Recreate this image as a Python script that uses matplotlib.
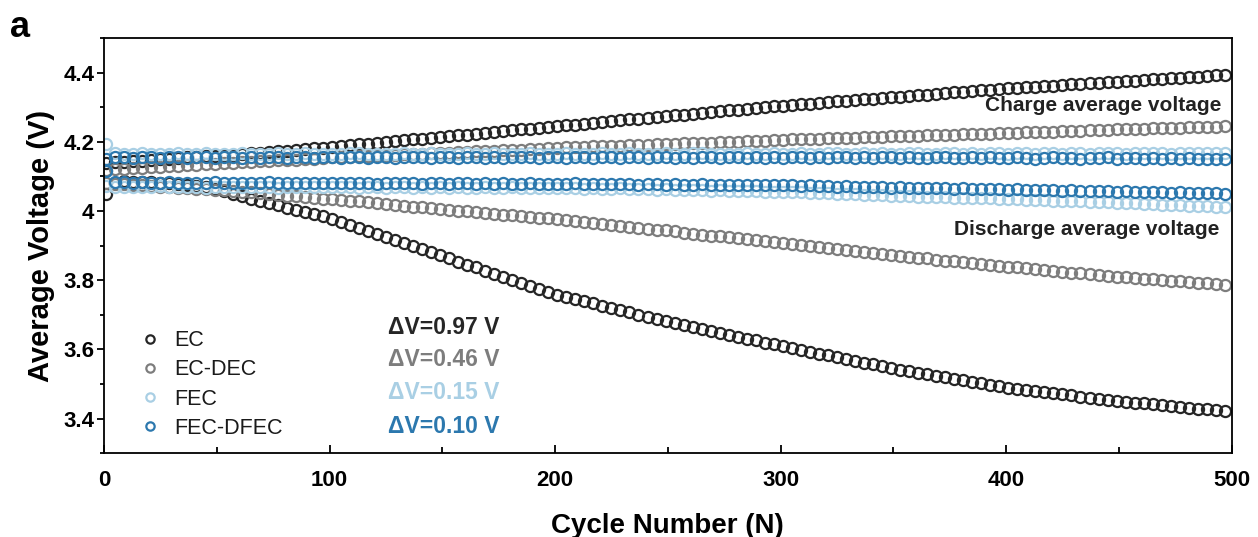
import numpy as np
import matplotlib
matplotlib.use("Agg")
import matplotlib.pyplot as plt
from matplotlib.ticker import MultipleLocator, FuncFormatter

plt.rcParams['font.family'] = ['Liberation Sans', 'DejaVu Sans']

# cycle index of every plotted point (every 4th cycle)
cycles = np.arange(1, 501, 4)

# average voltages in mV
ec_charge = [
    4140, 4142, 4143, 4145, 4146, 4148, 4150, 4151, 4153, 4155, 4156, 4158, 4160,
    4161, 4163, 4165, 4167, 4169, 4171, 4173, 4175, 4177, 4179, 4181, 4183,
    4185, 4188, 4190, 4193, 4195, 4197, 4200, 4202, 4205, 4207, 4209, 4212, 4214,
    4217, 4219, 4221, 4224, 4226, 4229, 4231, 4233, 4236, 4238, 4241, 4243,
    4245, 4248, 4250, 4253, 4255, 4257, 4260, 4262, 4265, 4267, 4269, 4272, 4274,
    4277, 4279, 4281, 4284, 4286, 4289, 4291, 4293, 4296, 4298, 4301, 4303,
    4305, 4307, 4309, 4311, 4313, 4315, 4317, 4319, 4321, 4323, 4325, 4327, 4329,
    4331, 4333, 4335, 4337, 4339, 4341, 4343, 4345, 4347, 4349, 4351, 4353,
    4355, 4357, 4358, 4360, 4361, 4363, 4365, 4366, 4368, 4369, 4371, 4373, 4374,
    4376, 4377, 4379, 4381, 4382, 4384, 4385, 4387, 4389, 4390, 4392, 4393,
]
ec_discharge = [
    4050, 4082, 4086, 4085, 4084, 4083, 4081, 4080, 4078, 4076, 4073, 4069, 4064,
    4057, 4050, 4043, 4036, 4029, 4023, 4017, 4010, 4004, 3998, 3992, 3985,
    3978, 3969, 3960, 3951, 3943, 3934, 3925, 3916, 3907, 3898, 3890, 3881, 3872,
    3863, 3854, 3845, 3837, 3828, 3819, 3810, 3801, 3793, 3784, 3775, 3766,
    3758, 3752, 3745, 3739, 3733, 3726, 3720, 3713, 3707, 3701, 3694, 3688, 3682,
    3676, 3670, 3665, 3659, 3654, 3648, 3643, 3637, 3631, 3626, 3620, 3615,
    3609, 3604, 3599, 3594, 3588, 3583, 3578, 3573, 3568, 3562, 3557, 3552, 3547,
    3542, 3537, 3533, 3529, 3524, 3520, 3515, 3511, 3507, 3502, 3498, 3493,
    3489, 3486, 3483, 3479, 3476, 3473, 3470, 3467, 3463, 3460, 3457, 3454, 3451,
    3448, 3446, 3444, 3441, 3439, 3436, 3434, 3432, 3429, 3427, 3424, 3422,
]
ecdec_charge = [
    4120, 4122, 4123, 4124, 4126, 4127, 4128, 4130, 4131, 4133, 4134, 4135, 4137,
    4138, 4140, 4141, 4142, 4144, 4145, 4147, 4148, 4149, 4151, 4152, 4154,
    4155, 4156, 4157, 4158, 4159, 4161, 4162, 4163, 4164, 4165, 4166, 4167, 4168,
    4169, 4170, 4172, 4173, 4174, 4175, 4176, 4177, 4178, 4179, 4180, 4181,
    4183, 4184, 4185, 4186, 4187, 4188, 4188, 4189, 4190, 4191, 4192, 4193, 4194,
    4195, 4196, 4197, 4197, 4198, 4199, 4200, 4201, 4202, 4203, 4204, 4205,
    4206, 4207, 4208, 4208, 4209, 4210, 4211, 4212, 4212, 4213, 4214, 4215, 4216,
    4216, 4217, 4218, 4219, 4220, 4220, 4221, 4222, 4223, 4224, 4224, 4225,
    4226, 4227, 4228, 4228, 4229, 4230, 4231, 4232, 4232, 4233, 4234, 4235, 4236,
    4236, 4237, 4238, 4239, 4240, 4240, 4241, 4242, 4243, 4244, 4244, 4245,
]
ecdec_discharge = [
    4080, 4079, 4077, 4076, 4074, 4073, 4071, 4070, 4068, 4067, 4065, 4064, 4062,
    4061, 4058, 4056, 4054, 4052, 4050, 4047, 4045, 4043, 4041, 4039, 4036,
    4035, 4033, 4030, 4028, 4025, 4023, 4021, 4018, 4016, 4013, 4011, 4008, 4006,
    4003, 4001, 3999, 3997, 3994, 3992, 3990, 3988, 3985, 3983, 3981, 3979,
    3976, 3973, 3971, 3968, 3965, 3963, 3960, 3957, 3954, 3952, 3949, 3946, 3944,
    3941, 3938, 3935, 3932, 3929, 3927, 3924, 3921, 3918, 3915, 3913, 3910,
    3907, 3904, 3901, 3898, 3895, 3893, 3890, 3887, 3884, 3881, 3878, 3875, 3873,
    3870, 3868, 3865, 3863, 3860, 3857, 3855, 3852, 3850, 3847, 3845, 3842,
    3839, 3837, 3835, 3832, 3830, 3827, 3825, 3822, 3820, 3818, 3815, 3813, 3810,
    3809, 3807, 3805, 3803, 3801, 3799, 3797, 3795, 3793, 3791, 3789, 3787,
]
fec_charge = [
    4194, 4168, 4166, 4165, 4167, 4166, 4164, 4166, 4167, 4165, 4166, 4168, 4165,
    4164, 4166, 4167, 4165, 4166, 4164, 4167, 4166, 4165, 4167, 4166, 4164,
    4166, 4165, 4167, 4168, 4165, 4166, 4164, 4165, 4167, 4166, 4165, 4167, 4166,
    4164, 4166, 4168, 4165, 4166, 4167, 4165, 4164, 4166, 4167, 4165, 4166,
    4165, 4167, 4166, 4164, 4166, 4168, 4165, 4166, 4167, 4165, 4166, 4164, 4167,
    4166, 4165, 4167, 4168, 4166, 4165, 4164, 4166, 4167, 4165, 4166, 4168,
    4166, 4165, 4167, 4166, 4164, 4167, 4168, 4166, 4165, 4167, 4166, 4168, 4165,
    4166, 4167, 4169, 4166, 4165, 4167, 4168, 4166, 4167, 4165, 4168, 4167,
    4166, 4168, 4167, 4165, 4168, 4169, 4166, 4167, 4168, 4166, 4169, 4167, 4168,
    4166, 4169, 4168, 4167, 4169, 4166, 4168, 4167, 4169, 4168, 4167, 4168,
]
fec_discharge = [
    4072, 4071, 4070, 4071, 4069, 4070, 4072, 4070, 4069, 4071, 4070, 4068, 4070,
    4071, 4069, 4070, 4071, 4069, 4070, 4068, 4070, 4071, 4069, 4070, 4069,
    4070, 4069, 4071, 4068, 4070, 4069, 4068, 4070, 4069, 4068, 4070, 4067, 4069,
    4068, 4070, 4068, 4067, 4069, 4068, 4067, 4069, 4068, 4066, 4068, 4067,
    4067, 4066, 4067, 4065, 4066, 4065, 4064, 4066, 4064, 4063, 4064, 4062, 4063,
    4061, 4062, 4060, 4061, 4059, 4060, 4058, 4059, 4057, 4058, 4056, 4056,
    4055, 4054, 4054, 4052, 4052, 4051, 4050, 4049, 4049, 4047, 4047, 4046, 4045,
    4044, 4044, 4042, 4042, 4041, 4040, 4039, 4039, 4038, 4037, 4037, 4036,
    4035, 4034, 4033, 4032, 4031, 4030, 4029, 4029, 4028, 4027, 4026, 4025, 4024,
    4023, 4022, 4021, 4020, 4019, 4018, 4017, 4016, 4015, 4014, 4013, 4012,
]
fecdfec_charge = [
    4150, 4156, 4155, 4154, 4156, 4155, 4153, 4155, 4156, 4154, 4155, 4157, 4154,
    4155, 4156, 4154, 4155, 4153, 4156, 4155, 4154, 4156, 4155, 4154, 4156,
    4155, 4154, 4156, 4155, 4153, 4155, 4156, 4154, 4155, 4157, 4155, 4154, 4156,
    4155, 4154, 4155, 4156, 4154, 4155, 4153, 4155, 4156, 4155, 4154, 4155,
    4156, 4154, 4155, 4155, 4153, 4156, 4155, 4154, 4156, 4155, 4154, 4155, 4156,
    4154, 4155, 4153, 4155, 4156, 4154, 4155, 4156, 4154, 4155, 4153, 4155,
    4154, 4156, 4155, 4153, 4155, 4154, 4156, 4155, 4154, 4155, 4153, 4155, 4156,
    4154, 4155, 4153, 4154, 4156, 4155, 4154, 4153, 4155, 4154, 4156, 4154,
    4153, 4155, 4154, 4152, 4154, 4155, 4153, 4154, 4152, 4154, 4153, 4155, 4152,
    4153, 4154, 4152, 4153, 4151, 4153, 4152, 4154, 4151, 4152, 4150, 4152,
]
fecdfec_discharge = [
    4115, 4084, 4083, 4082, 4083, 4081, 4082, 4083, 4081, 4082, 4080, 4082, 4083,
    4081, 4082, 4080, 4082, 4081, 4083, 4082, 4080, 4081, 4082, 4081, 4080,
    4082, 4081, 4080, 4082, 4081, 4079, 4081, 4080, 4082, 4080, 4079, 4081, 4080,
    4079, 4081, 4080, 4078, 4080, 4079, 4081, 4079, 4078, 4080, 4079, 4078,
    4079, 4078, 4080, 4078, 4077, 4079, 4078, 4077, 4078, 4076, 4078, 4077, 4076,
    4078, 4076, 4075, 4077, 4076, 4075, 4076, 4074, 4076, 4075, 4074, 4075,
    4074, 4075, 4073, 4074, 4072, 4073, 4071, 4072, 4070, 4071, 4069, 4070, 4068,
    4069, 4067, 4068, 4066, 4067, 4066, 4065, 4066, 4064, 4065, 4063, 4064,
    4062, 4063, 4061, 4062, 4060, 4061, 4059, 4060, 4058, 4059, 4057, 4058, 4056,
    4057, 4055, 4056, 4054, 4055, 4053, 4054, 4052, 4053, 4051, 4052, 4050,
]

labels = ["EC", "EC-DEC", "FEC", "FEC-DFEC"]
colors = ["#262626", "#7d7d7d", "#a9cfe4", "#2c78ae"]
delta_v = ["\u0394V=0.97 V", "\u0394V=0.46 V", "\u0394V=0.15 V", "\u0394V=0.10 V"]
series = [
    (ec_charge, ec_discharge),
    (ecdec_charge, ecdec_discharge),
    (fec_charge, fec_discharge),
    (fecdfec_charge, fecdfec_discharge),
]

fig = plt.figure(figsize=(12.58, 5.37), dpi=100)
ax = fig.add_axes([0.0827, 0.156, 0.8963, 0.773])

handles = []
for (chg, dis), lab, col in zip(series, labels, colors):
    kw = dict(ls="none", marker="o", ms=8.0, mfc="none", mec=col, mew=1.6)
    h, = ax.plot(cycles, np.array(chg) / 1000.0, label=lab, **kw)
    ax.plot(cycles, np.array(dis) / 1000.0, **kw)
    handles.append(h)

ax.set_xlim(0, 500)
ax.set_ylim(3.3, 4.5)
ax.xaxis.set_major_locator(MultipleLocator(100))
ax.xaxis.set_minor_locator(MultipleLocator(50))
ax.yaxis.set_major_locator(MultipleLocator(0.2))
ax.yaxis.set_minor_locator(MultipleLocator(0.1))
ax.yaxis.set_major_formatter(FuncFormatter(lambda v, p: f"{v:g}"))

ax.tick_params(axis="x", which="both", direction="in", width=1.3)
ax.tick_params(axis="x", which="major", length=6, pad=12)
ax.tick_params(axis="x", which="minor", length=4)
ax.tick_params(axis="y", which="both", direction="out", width=1.3)
ax.tick_params(axis="y", which="major", length=5, pad=2)
ax.tick_params(axis="y", which="minor", length=3)
for lab in ax.get_xticklabels() + ax.get_yticklabels():
    lab.set_fontweight("bold")
    lab.set_fontsize(16)
for sp in ax.spines.values():
    sp.set_linewidth(1.3)

ax.set_xlabel("Cycle Number (N)", fontsize=20, fontweight="bold", labelpad=16)
ax.set_ylabel("Average Voltage (V)", fontsize=21, fontweight="bold", labelpad=6)

leg = ax.legend(handles=handles, loc="lower left", bbox_to_anchor=(0.013, -0.012),
                frameon=False, fontsize=15.5, handletextpad=0.6,
                labelspacing=0.38, handlelength=1.1, markerscale=0.75)
for t in leg.get_texts():
    t.set_color("#1a1a1a")

for txt, col, yv in zip(delta_v, colors, [3.664, 3.571, 3.475, 3.378]):
    ax.text(126, yv, txt, color=col, fontsize=16.5, fontweight="bold",
            ha="left", va="center")

ax.text(495.5, 4.304, "Charge average voltage", fontsize=15, fontweight="bold",
        ha="right", va="center", color="#222222")
ax.text(494.5, 3.947, "Discharge average voltage", fontsize=15,
        fontweight="bold", ha="right", va="center", color="#222222")

fig.text(0.008, 0.948, "a", fontsize=26, fontweight="bold", ha="left",
         va="center")

fig.savefig("out.png", dpi=100, facecolor="white")
